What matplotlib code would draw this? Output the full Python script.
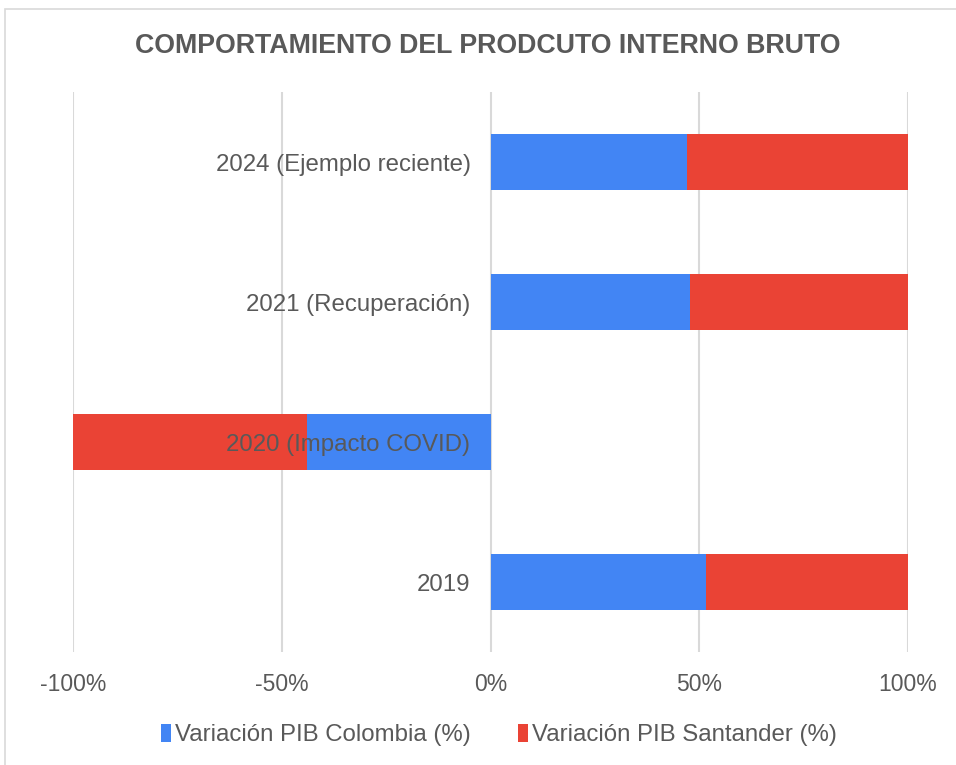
import matplotlib.pyplot as plt
from matplotlib.patches import Rectangle
import matplotlib.transforms as mtransforms
import numpy as np

plt.rcParams["font.family"] = ["Liberation Sans", "DejaVu Sans"]

TITLE = "COMPORTAMIENTO DEL PRODCUTO INTERNO BRUTO"
CATEGORIES = ["2019", "2020 (Impacto COVID)", "2021 (Recuperación)", "2024 (Ejemplo reciente)"]
COLOMBIA = [3.2, -7.0, 10.7, 1.6]
SANTANDER = [3.0, -8.9, 11.7, 1.8]
SERIES_NAMES = ["Variación PIB Colombia (%)", "Variación PIB Santander (%)"]
X_TICKS = [-1.0, -0.5, 0.0, 0.5, 1.0]
X_LABELS = ["-100%", "-50%", "0%", "50%", "100%"]

BLUE = "#4285F4"
RED = "#EA4335"
TEXT_GRAY = "#595959"
GRID_GRAY = "#D9D9D9"

col = np.array(COLOMBIA)
san = np.array(SANTANDER)
total = np.abs(col) + np.abs(san)
col_share = col / total
san_share = san / total

fig = plt.figure(figsize=(9.56, 7.65), dpi=100)
ax = fig.add_axes([73 / 956, 1 - 652 / 765, (908 - 73) / 956, (652 - 92) / 765])

y = np.arange(len(CATEGORIES))
ax.barh(y, col_share, height=0.4, color=BLUE, label=SERIES_NAMES[0], zorder=2)
ax.barh(y, san_share, left=col_share, height=0.4, color=RED, label=SERIES_NAMES[1], zorder=2)

ax.set_xlim(-1.0, 1.0)
ax.set_ylim(-0.5, 3.5)
ax.set_xticks(X_TICKS)
ax.set_xticklabels(X_LABELS)
ax.set_yticks([])
for side in ["left", "right", "top", "bottom"]:
    ax.spines[side].set_visible(False)
ax.tick_params(axis="x", length=0, pad=15, labelsize=16.5, labelcolor=TEXT_GRAY)
ax.grid(axis="x", color=GRID_GRAY, linewidth=1.5, zorder=0)
ax.set_axisbelow(True)

# category labels sit just left of the 0% line, on top of the bars
offset = mtransforms.offset_copy(ax.transData, fig=fig, x=-20, y=-3, units="dots")
for yi, cat in zip(y, CATEGORIES):
    ax.text(0, yi, cat, transform=offset, ha="right", va="center",
            fontsize=17.3, color=TEXT_GRAY, zorder=5)

fig.text(488 / 956, 1 - 46 / 765, TITLE, ha="center", va="center",
         fontsize=19.3, fontweight="bold", color=TEXT_GRAY)

fig.legend(loc="center", bbox_to_anchor=(499 / 956, 1 - 735 / 765), ncol=2,
           frameon=False, fontsize=17.3, labelcolor=TEXT_GRAY,
           handlelength=0.4, handleheight=0.75, handletextpad=0.15, columnspacing=2.0)

fig.patches.append(Rectangle((5 / 956, -0.02), 1.0, 1 - 9 / 765 + 0.02,
                             transform=fig.transFigure, fill=False,
                             edgecolor=GRID_GRAY, linewidth=1.2))

fig.savefig("out.png", dpi=100, facecolor="white")
